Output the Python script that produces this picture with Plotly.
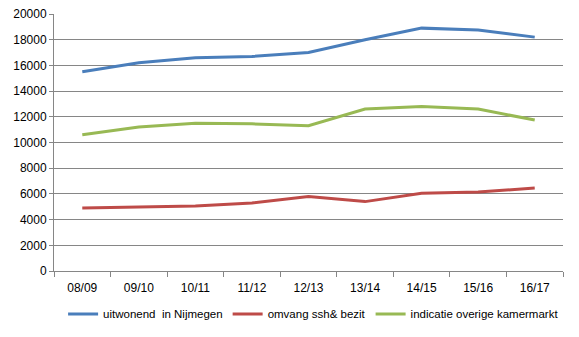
import plotly.graph_objects as go

categories = ["08/09", "09/10", "10/11", "11/12", "12/13", "13/14", "14/15", "15/16", "16/17"]
uitwonend = [15500, 16200, 16600, 16700, 17000, 18000, 18900, 18750, 18200]
omvang_ssh = [4900, 4950, 5050, 5300, 5800, 5400, 6050, 6150, 6450]
overige = [10600, 11200, 11500, 11450, 11300, 12600, 12800, 12600, 11750]

series_names = ["uitwonend  in Nijmegen", "omvang ssh& bezit", "indicatie overige kamermarkt"]
colors = ["#4A7EBB", "#BE4B48", "#98B954"]

fig = go.Figure()
for name, vals, col in zip(series_names, [uitwonend, omvang_ssh, overige], colors):
    fig.add_trace(go.Scatter(x=categories, y=vals, name=name, mode="lines",
                             line=dict(color=col, width=3)))

font = dict(family="Liberation Sans, Arial, sans-serif", size=12, color="#000000")
legfont = dict(family="Liberation Sans, Arial, sans-serif", size=11.5, color="#000000")
fig.update_layout(
    width=579, height=337,
    margin=dict(l=54, r=16, t=14, b=66, autoexpand=False),
    paper_bgcolor="white", plot_bgcolor="white",
    font=font,
    showlegend=True,
    legend=dict(orientation="h", x=0.51, xanchor="center", y=-0.167, yanchor="middle",
                font=legfont, itemwidth=30, tracegroupgap=0),
)
fig.update_xaxes(type="category", tickson="boundaries", ticks="outside", ticklen=5,
                 tickcolor="#868686", showline=True, linecolor="#868686", linewidth=1,
                 showgrid=False, tickfont=font, range=[-0.5, 8.5], ticklabelstandoff=6)
fig.update_yaxes(range=[0, 20000], dtick=2000, ticks="outside", ticklen=4,
                 tickcolor="#868686", showline=True, linecolor="#868686", linewidth=1,
                 showgrid=True, gridcolor="#868686", gridwidth=1, zeroline=False,
                 tickfont=font, tickformat="d")

fig.write_html("out.html")
